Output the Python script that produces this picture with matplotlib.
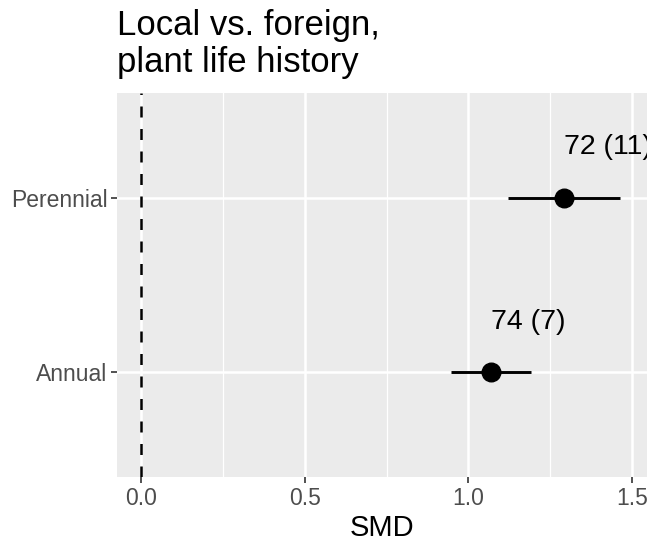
import matplotlib.pyplot as plt
import numpy as np

plt.rcParams['font.family'] = ['Liberation Sans', 'DejaVu Sans']

# data
groups = ['Annual', 'Perennial']
smd = [1.069, 1.292]
ci_low = [0.946, 1.122]
ci_high = [1.191, 1.462]
labels = ['74 (7)', '72 (11)']

fig = plt.figure(figsize=(6.47, 5.5), dpi=100)
ax = fig.add_axes([0.181, 0.133, 0.819, 0.698])
ax.set_facecolor('#EBEBEB')

y = np.arange(1, len(groups) + 1)

# grid
for v in [0.25, 0.75, 1.25]:
    ax.axvline(v, color='white', lw=0.9, zorder=0)
for v in [0, 0.5, 1.0, 1.5]:
    ax.axvline(v, color='white', lw=1.8, zorder=0)
for v in y:
    ax.axhline(v, color='white', lw=1.8, zorder=0)

ax.axvline(0, color='black', lw=1.8, ls=(0, (4.4, 4.6)), zorder=2)

ax.hlines(y, ci_low, ci_high, color='black', lw=2.1, zorder=3)
ax.plot(smd, y, 'o', color='black', ms=13.4, zorder=4)

for xi, yi, lab in zip(smd, y, labels):
    ax.text(xi, yi + 0.29, lab, ha='left', va='center',
            fontsize=20.5, color='black', clip_on=False)

ax.set_xlim(-0.0733, 1.546)
ax.set_ylim(0.4, 2.6)
ax.set_xticks([0, 0.5, 1.0, 1.5])
ax.set_xticklabels(['0.0', '0.5', '1.0', '1.5'])
ax.set_yticks(y)
ax.set_yticklabels(groups)
ax.tick_params(length=4, width=1.2, color='#333333', labelcolor='#4D4D4D',
               labelsize=16.5, pad=3)
for s in ax.spines.values():
    s.set_visible(False)

ax.set_xlabel('SMD', fontsize=21, labelpad=3)

fig.text(0.181, 0.984, 'Local vs. foreign,\nplant life history', ha='left', va='top',
         fontsize=25, linespacing=1.15)

fig.savefig('out.png', dpi=100)
